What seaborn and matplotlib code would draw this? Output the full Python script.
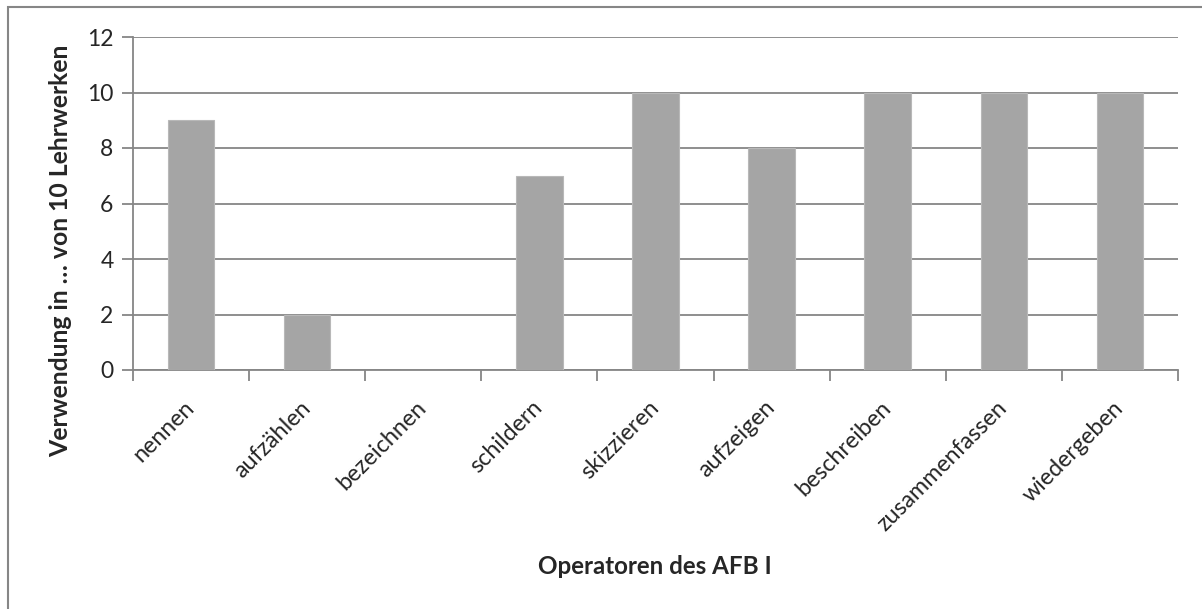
import matplotlib
matplotlib.use("Agg")
import matplotlib.pyplot as plt
import seaborn as sns
import pandas as pd
from matplotlib.patches import Rectangle

categories = ["nennen", "aufzählen", "bezeichnen", "schildern", "skizzieren",
              "aufzeigen", "beschreiben", "zusammenfassen", "wiedergeben"]
values = [9, 2, 0, 7, 10, 8, 10, 10, 10]
y_ticks = [0, 2, 4, 6, 8, 10, 12]
x_label = "Operatoren des AFB I"
y_label = "Verwendung in … von 10 Lehrwerken"

sns.set_theme(style="white")
plt.rcParams["font.family"] = ["Lato", "DejaVu Sans"]

GRAY = "#868686"
BAR = "#A5A5A5"

df = pd.DataFrame({"cat": categories, "val": values})

fig = plt.figure(figsize=(12.02, 6.09), dpi=100)
ax = fig.add_axes([133/1202, 1-370/609, (1178-133)/1202, (370-37)/609])

sns.barplot(data=df, x="cat", y="val", color=BAR, width=0.4, saturation=1,
            ax=ax, zorder=3)
for p in ax.patches:
    p.set_edgecolor("#B8B8B8")
    p.set_linewidth(0.8)

ax.set_xlim(-0.5, len(categories) - 0.5)
ax.set_ylim(0, 12)
ax.set_yticks(y_ticks)
ax.set_yticklabels([str(t) for t in y_ticks], fontsize=16.5)
ax.yaxis.grid(True, color=GRAY, linewidth=1.3, zorder=0)
ax.set_axisbelow(True)

ax.set_xticks(range(len(categories)))
ax.set_xticklabels(categories, rotation=45, ha="right", va="center",
                   rotation_mode="anchor", fontsize=17)
ax.set_xticks([i - 0.5 for i in range(len(categories) + 1)], minor=True)
xpad = 26
ax.tick_params(axis="x", which="major", length=0, pad=xpad)
ax.tick_params(axis="x", which="minor", length=8, width=1.3, color=GRAY,
               bottom=True)
ax.tick_params(axis="y", which="major", length=8, width=1.3, color=GRAY,
               left=True, pad=6)

for s in ["top", "right"]:
    ax.spines[s].set_visible(False)
for s in ["left", "bottom"]:
    ax.spines[s].set_color(GRAY)
    ax.spines[s].set_linewidth(1.3)

ax.set_xlabel("")
ax.set_ylabel("")
xl = fig.text(655/1202, 1-567/609, x_label, ha="center", va="center",
              fontsize=17.3, fontweight="bold")
yl = fig.text(61/1202, 1-251/609, y_label, ha="center", va="center",
              rotation=90, fontsize=18, fontweight="bold")

fig.patches.append(Rectangle((8/1202, -0.1), 1.2, 1 - 7/609 + 0.1,
                             transform=fig.transFigure, fill=False,
                             edgecolor=GRAY, linewidth=1.5))

# fit text sizes / offsets to the measured extents of the reference
renderer = fig.canvas.get_renderer()
ref_idx = categories.index("zusammenfassen")
for _ in range(3):
    fig.canvas.draw()
    bb = xl.get_window_extent(renderer)
    xl.set_fontsize(xl.get_fontsize() * 235 / bb.width)
    bb = yl.get_window_extent(renderer)
    yl.set_fontsize(yl.get_fontsize() * 412 / bb.height)
    lab = ax.get_xticklabels()[ref_idx]
    bb = lab.get_window_extent(renderer)
    scale = 138 / bb.width
    for t in ax.get_xticklabels():
        t.set_fontsize(t.get_fontsize() * scale)
    fig.canvas.draw()
    bb = ax.get_xticklabels()[ref_idx].get_window_extent(renderer)
    delta = bb.y1 - (609 - 397)
    xpad += delta * 72 / fig.dpi
    ax.tick_params(axis="x", which="major", pad=xpad)

fig.savefig("out.png", dpi=100, facecolor="white")
